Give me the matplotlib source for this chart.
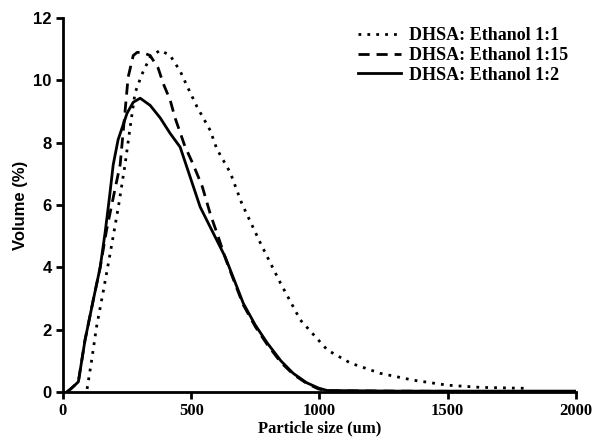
import numpy as np
import matplotlib
matplotlib.use('Agg')
import matplotlib.pyplot as plt

# particle size distributions (size in um, volume in %)
x_11 = [94, 112, 131, 158, 184, 216, 242, 262, 281, 308, 340, 379, 418, 457, 488, 523,
        574, 600, 652, 697, 770, 848, 926, 1031, 1121, 1238, 1367, 1500, 1629, 1805]
y_11 = [0.1, 1.03, 2.1, 3.27, 4.45, 5.94, 7.3, 8.5, 9.6, 10.2, 10.75, 10.97, 10.8, 10.3,
        9.75, 9.15, 8.4, 7.8, 7.05, 6.06, 4.78, 3.5, 2.31, 1.35, 0.93, 0.6, 0.38, 0.22,
        0.15, 0.12]

x_115 = [15, 30, 50, 60, 86, 118, 145, 170, 195, 223, 242, 254, 274, 289, 310, 340,
         371, 391, 418, 437, 475, 508, 543, 575, 606, 633, 670, 703, 750, 797, 850,
         898, 950, 996, 1030, 1300, 1600, 2000]
y_115 = [0.0, 0.1, 0.25, 0.33, 1.67, 2.95, 4.0, 5.2, 6.2, 7.3, 9.0, 10.1, 10.8, 10.9,
         10.9, 10.8, 10.4, 9.9, 9.37, 8.8, 7.9, 7.3, 6.6, 5.7, 4.97, 4.3, 3.5, 2.8, 2.1,
         1.52, 0.95, 0.57, 0.28, 0.1, 0.04, 0.03, 0.02, 0.02]

x_12 = [15, 30, 50, 60, 86, 118, 145, 164, 180, 196, 215, 250, 274, 301, 340, 379,
        418, 457, 496, 535, 633, 670, 703, 750, 797, 850, 898, 950, 996, 1030, 1300,
        1600, 2000]
y_12 = [0.0, 0.1, 0.25, 0.33, 1.67, 2.95, 4.0, 5.1, 6.16, 7.3, 8.1, 8.95, 9.3, 9.43,
        9.2, 8.8, 8.3, 7.86, 6.9, 5.94, 4.33, 3.55, 2.85, 2.15, 1.57, 1.0, 0.6, 0.3,
        0.13, 0.05, 0.03, 0.03, 0.03]

labels = ['DHSA: Ethanol 1:1', 'DHSA: Ethanol 1:15', 'DHSA: Ethanol 1:2']
xticks = [0, 500, 1000, 1500, 2000]
yticks = [0, 2, 4, 6, 8, 10, 12]

sans_narrow = ['Liberation Sans Narrow', 'Liberation Sans', 'DejaVu Sans']
serif = ['Liberation Serif', 'DejaVu Serif']

fig = plt.figure(figsize=(5.97, 4.42), dpi=100)
ax = fig.add_axes([0.1055, 0.113, 0.859, 0.846])

ax.plot(x_11, y_11, color='black', linestyle=(0, (1, 2.2)), linewidth=2.0, label=labels[0])
ax.plot(x_115, y_115, color='black', linestyle=(0, (4, 2.5)), linewidth=2.0, label=labels[1])
ax.plot(x_12, y_12, color='black', linestyle='-', linewidth=2.0, label=labels[2])

ax.set_xlim(0, 2000)
ax.set_ylim(0, 12)
ax.set_xticks(xticks)
ax.set_yticks(yticks)
ax.spines['top'].set_visible(False)
ax.spines['right'].set_visible(False)
ax.spines['left'].set_linewidth(2)
ax.spines['bottom'].set_linewidth(2)
ax.tick_params(direction='out', width=2, length=5)
ax.tick_params(axis='x', pad=3)
ax.tick_params(axis='y', pad=3)
for lab in ax.get_xticklabels():
    lab.set_family(serif)
    lab.set_fontweight('bold')
    lab.set_fontsize(12)
for lab in ax.get_yticklabels():
    lab.set_family(sans_narrow)
    lab.set_fontweight('bold')
    lab.set_fontsize(12)

ax.set_ylabel('Volume (%)', family=sans_narrow, fontweight='bold', fontsize=12, labelpad=4)
ax.set_xlabel('Particle size (um)', family=serif, fontweight='bold', fontsize=12, labelpad=1)

leg = ax.legend(loc='upper right', frameon=False,
                prop={'family': serif, 'size': 13, 'weight': 'bold'},
                handlelength=2.4, handletextpad=0.45, labelspacing=0.15,
                borderaxespad=0.0, bbox_to_anchor=(1.0, 0.995))

fig.savefig('out.png', dpi=100)
